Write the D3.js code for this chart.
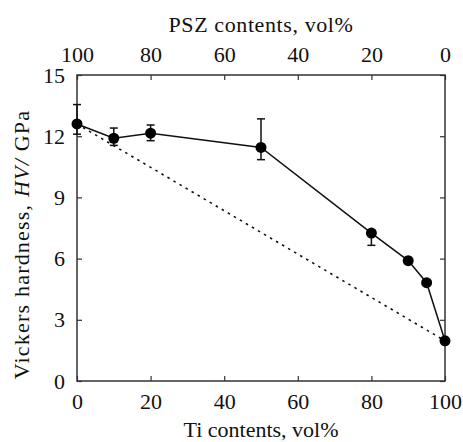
<!DOCTYPE html>
<html>
<head>
<meta charset="utf-8">
<script src="https://cdn.jsdelivr.net/npm/d3@7"></script>
<style>
  body { margin: 0; background: #fff; }
  svg text { font-family: 'Liberation Serif', 'Times New Roman', Times, serif !important; fill: #111; }
</style>
</head>
<body>
<div id="chart"></div>
<script>
// Ti contents (vol%) and hardness (GPa)
const tiContents = [0, 10, 20, 50, 80, 90, 95, 100];
const hardness = [12.6, 11.9, 12.15, 11.45, 7.25, 5.9, 4.82, 1.97];
const errLow = [12.1, 11.55, 11.78, 10.85, 6.65, null, null, null];
const errHigh = [13.55, 12.4, 12.55, 12.85, null, null, null, null];
const ruleOfMixtures = [[0, 12.6], [100, 1.97]];
const xTicks = [0, 20, 40, 60, 80, 100];
const yTicks = [0, 3, 6, 9, 12, 15];

const margin = {left: 77, top: 75, right: 18, bottom: 61};
const width = 463, height = 442;
const vpWidth = width - margin.left - margin.right;
const vpHeight = height - margin.top - margin.bottom;

var x = d3.scaleLinear().domain([0, 100]).range([0, vpWidth]);
var xTop = d3.scaleLinear().domain([100, 0]).range([0, vpWidth]);
var y = d3.scaleLinear().domain([0, 15]).range([vpHeight, 0]);

var svg = d3.select("#chart").append("svg")
    .attr("width", width)
    .attr("height", height);

var g = svg.append("g")
    .attr("transform", `translate(${margin.left}, ${margin.top})`);

function styleAxis(sel) {
  sel.attr("font-family", null);
  sel.select(".domain").remove();
  sel.selectAll(".tick line").attr("stroke", "#333").attr("stroke-width", 1.2);
  sel.selectAll(".tick text").attr("font-size", 22).attr("fill", "#111");
}

// bottom axis
g.append("g")
    .attr("transform", `translate(0, ${vpHeight})`)
    .call(d3.axisBottom(x).tickValues(xTicks).tickSizeInner(-5).tickSizeOuter(0).tickPadding(12))
    .call(styleAxis);

// top axis (PSZ = 100 - Ti)
g.append("g")
    .call(d3.axisTop(xTop).tickValues(xTicks).tickSizeInner(-5).tickSizeOuter(0).tickPadding(13))
    .call(styleAxis);

// left axis
g.append("g")
    .call(d3.axisLeft(y).tickValues(yTicks).tickSizeInner(-5).tickSizeOuter(0).tickPadding(12))
    .call(styleAxis);

// right ticks
g.append("g")
    .attr("transform", `translate(${vpWidth}, 0)`)
    .call(d3.axisRight(y).tickValues(yTicks).tickSizeInner(-5).tickSizeOuter(0).tickFormat(""))
    .call(styleAxis);

// frame
g.append("rect")
    .attr("width", vpWidth)
    .attr("height", vpHeight)
    .attr("fill", "none")
    .attr("stroke", "#333")
    .attr("stroke-width", 1.5);

// dotted rule-of-mixtures line
g.append("path")
    .datum(ruleOfMixtures)
    .attr("fill", "none")
    .attr("stroke", "#111")
    .attr("stroke-width", 1.6)
    .attr("stroke-dasharray", "2.5,4.5")
    .attr("d", d3.line().x(d => x(d[0])).y(d => y(d[1])));

const points = tiContents.map((t, i) => ({t: t, v: hardness[i], lo: errLow[i], hi: errHigh[i]}));

// measured line
g.append("path")
    .datum(points)
    .attr("fill", "none")
    .attr("stroke", "#111")
    .attr("stroke-width", 1.5)
    .attr("d", d3.line().x(d => x(d.t)).y(d => y(d.v)));

// error bars
const capW = 4;
var errG = g.append("g").attr("stroke", "#111").attr("stroke-width", 1.5);
points.forEach(d => {
  const lo = d.lo == null ? d.v : d.lo;
  const hi = d.hi == null ? d.v : d.hi;
  if (lo === hi) return;
  errG.append("line").attr("x1", x(d.t)).attr("x2", x(d.t)).attr("y1", y(lo)).attr("y2", y(hi));
  if (d.lo != null) errG.append("line").attr("x1", x(d.t) - capW).attr("x2", x(d.t) + capW).attr("y1", y(lo)).attr("y2", y(lo));
  if (d.hi != null) errG.append("line").attr("x1", x(d.t) - capW).attr("x2", x(d.t) + capW).attr("y1", y(hi)).attr("y2", y(hi));
});

g.selectAll("circle").data(points).enter().append("circle")
    .attr("cx", d => x(d.t))
    .attr("cy", d => y(d.v))
    .attr("r", 5.5)
    .attr("fill", "#000");

// titles
svg.append("text")
    .attr("x", margin.left + vpWidth / 2)
    .attr("y", 437)
    .attr("text-anchor", "middle")
    .attr("font-size", 22)
    .text("Ti contents, vol%");

svg.append("text")
    .attr("x", margin.left + vpWidth / 2)
    .attr("y", 32)
    .attr("text-anchor", "middle")
    .attr("font-size", 22)
    .attr("letter-spacing", 0.6)
    .text("PSZ contents, vol%");

var yLabel = svg.append("text")
    .attr("transform", `translate(29, ${(108 + 381) / 2}) rotate(-90)`)
    .attr("text-anchor", "middle")
    .attr("font-size", 22)
    .attr("letter-spacing", 1.2);
yLabel.append("tspan").text("Vickers hardness, ");
yLabel.append("tspan").attr("font-style", "italic").text("HV/");
yLabel.append("tspan").text(" GPa");
</script>
</body>
</html>
